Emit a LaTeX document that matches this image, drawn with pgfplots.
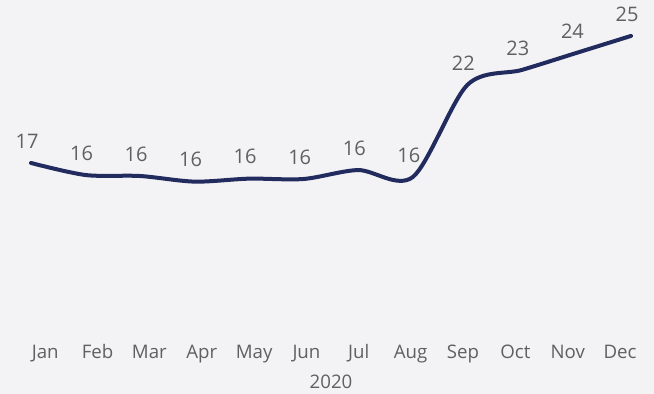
\documentclass[border=0pt]{standalone}
\usepackage{pgfplots}
\pgfplotsset{compat=1.18}
\usepackage{fontspec}
\setmainfont{Open Sans}
\usetikzlibrary{backgrounds}
\definecolor{bg}{HTML}{F3F3F6}
\definecolor{navy}{HTML}{222B5E}
\definecolor{txt}{HTML}{606060}
\begin{document}
\begin{tikzpicture}
\begin{axis}[
  scale only axis, width=450pt, height=251.25pt,
  xmin=0, xmax=11, ymin=6.4848, ymax=26.7879,
  clip=false,
  axis line style={draw=none}, tick style={draw=none},
  ytick=\empty,
  xtick={0.26,1.22,2.17,3.13,4.09,5.05,6.01,6.96,7.92,8.88,9.84,10.80},
  xticklabels={Jan,Feb,Mar,Apr,May,Jun,Jul,Aug,Sep,Oct,Nov,Dec},
  xticklabel style={anchor=base, yshift=-17.5pt, font=\fontsize{14}{16}\selectfont, text=txt},
  xlabel={2020},
  xlabel style={at={(axis description cs:0.5,0)}, anchor=base, yshift=-40.5pt, font=\fontsize{14}{16}\selectfont, text=txt},
  /pgf/number format/assume math mode=true,
  nodes near coords,
  nodes near coords style={font=\fontsize{15}{17}\selectfont, text=txt, anchor=center, yshift=16.5pt, xshift=-3pt,
    /pgf/number format/.cd, fixed, precision=0},
]
\addplot[navy, line width=3pt, smooth, tension=0.5, line cap=round] coordinates {
  (0,16.91) (1,16.18) (2,16.12) (3,15.78) (4,15.96) (5,15.94)
  (6,16.48) (7,16.06) (8,21.64) (9,22.55) (10,23.58) (11,24.61)
};
\end{axis}
\begin{scope}[on background layer]
\fill[bg] ([xshift=-23.25pt,yshift=-44.25pt]current axis.south west) rectangle ([xshift=17.25pt]current axis.north east);
\end{scope}
\end{tikzpicture}
\end{document}
